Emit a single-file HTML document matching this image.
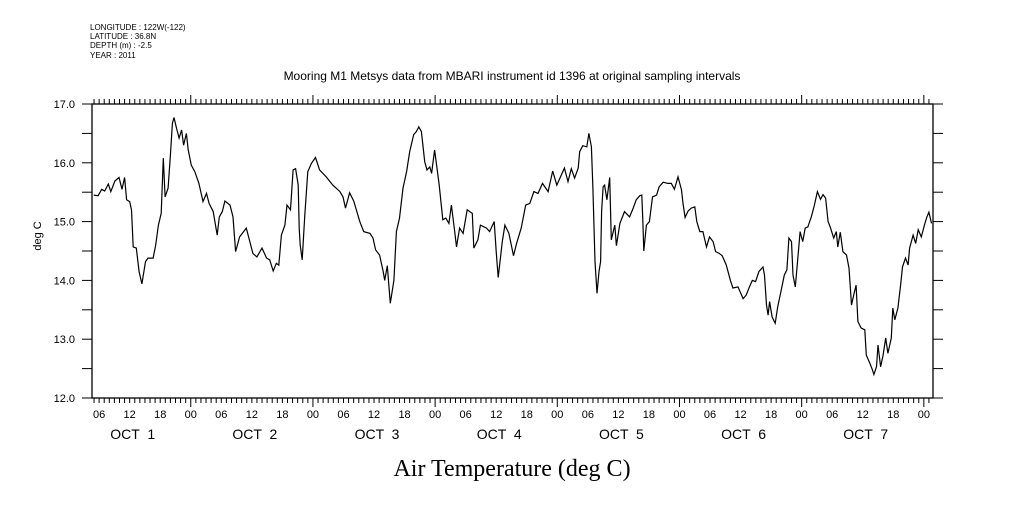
<!DOCTYPE html>
<html><head><meta charset="utf-8"><style>
body{margin:0;background:#fff;}
svg text{font-family:"Liberation Sans",sans-serif;fill:#000;}
</style></head><body>
<svg id="chart" width="1009" height="504" viewBox="0 0 1009 504" xmlns="http://www.w3.org/2000/svg">
<g font-size="8">
<text x="90" y="30">LONGITUDE : 122W(-122)</text>
<text x="90" y="39">LATITUDE : 36.8N</text>
<text x="90" y="48">DEPTH (m) : -2.5</text>
<text x="90" y="58">YEAR : 2011</text>
</g>
<text x="512" y="80" text-anchor="middle" font-size="12">Mooring M1 Metsys data from MBARI instrument id 1396 at original sampling intervals</text>
<text transform="translate(41,236) rotate(-90)" text-anchor="middle" font-size="11">deg C</text>
<text x="512" y="476" text-anchor="middle" font-size="24" style="font-family:'Liberation Serif',serif">Air Temperature (deg C)</text>
<g id="axes"></g>
<g id="marks"></g>
</svg>
<script>
const hours=[4.95,5.8,6.5,7.1,7.8,8.3,9.1,9.9,10.5,11.0,11.4,12.0,12.35,12.7,13.3,13.85,14.4,15.1,15.6,16.6,17.1,17.65,18.2,18.6,18.95,19.55,20.0,20.4,20.7,21.2,21.7,22.2,22.6,23.15,23.5,24.1,24.8,25.6,26.4,27.1,27.6,28.4,29.2,29.6,30.2,30.7,31.7,32.3,32.8,33.6,34.9,36.2,37.0,38.0,38.9,39.5,40.2,40.8,41.3,41.8,42.5,42.9,43.6,44.1,44.6,45.1,45.3,
45.5,45.9,46.4,47.0,47.7,48.5,49.3,50.6,51.9,53.3,53.9,54.4,55.2,56.0,57.2,57.98,59.2,59.8,60.3,61.1,61.8,62.1,62.6,63.2,63.9,64.4,65.0,65.7,66.4,67.0,67.8,68.3,68.8,69.3,69.95,70.4,70.95,71.3,71.9,72.8,73.5,74.1,74.7,75.2,75.85,76.2,76.8,77.5,78.3,79.3,79.6,80.4,80.9,82.1,82.7,83.6,84.0,84.4,85.2,85.7,86.5,
87.4,88.0,88.9,89.8,90.6,91.4,92.2,93.1,94.2,95.1,95.9,97.4,98.1,98.75,99.4,100.1,100.4,101.0,101.8,102.2,102.7,103.0,103.4,103.8,104.2,104.5,104.7,105.0,105.3,105.75,106.3,106.6,107.3,107.6,108.3,109.2,110.2,110.9,111.5,112.2,112.6,112.8,113.0,113.5,114.1,114.7,115.5,116.0,116.8,117.7,118.4,119.0,119.7,120.4,120.7,121.1,121.7,122.3,123.0,123.4,124.0,124.6,125.3,125.9,126.6,127.1,127.8,
128.4,129.2,130.0,130.5,131.5,132.5,133.1,133.65,134.3,134.95,135.6,136.4,136.7,137.1,137.4,137.7,138.2,138.8,139.3,140.0,140.6,141.1,141.5,142.0,142.3,142.75,143.3,143.7,144.2,144.7,145.2,145.9,146.5,147.1,147.7,148.2,148.7,149.2,149.6,150.3,150.8,151.1,151.6,152.1,152.8,153.3,153.8,154.3,154.7,155.05,155.7,156.4,156.7,157.4,157.9,158.2,158.7,159.0,159.5,160.0,160.5,160.95,161.6,161.9,162.3,162.9,163.4,163.8,164.4,164.9,165.2,165.9,166.4,166.9,167.5,168.2,168.6,169.0,169.5];
const temps=[15.45,15.44,15.55,15.52,15.64,15.51,15.69,15.75,15.55,15.75,15.37,15.34,15.2,14.57,14.55,14.15,13.94,14.32,14.38,14.38,14.59,14.94,15.14,16.08,15.42,15.57,16.13,16.67,16.77,16.59,16.42,16.56,16.30,16.5,16.22,15.96,15.85,15.65,15.34,15.48,15.31,15.17,14.77,15.08,15.17,15.35,15.28,15.08,14.49,14.74,14.89,14.46,14.40,14.55,14.38,14.35,14.16,14.29,14.26,14.77,14.94,15.28,15.2,15.88,15.9,15.62,14.89,
14.6,14.35,15.11,15.85,15.99,16.09,15.88,15.76,15.62,15.51,15.42,15.23,15.49,15.35,15.0,14.83,14.80,14.72,14.52,14.43,14.15,14.0,14.25,13.61,14.0,14.83,15.06,15.57,15.85,16.19,16.48,16.53,16.61,16.53,16.02,15.88,15.93,15.82,16.22,15.62,15.03,15.06,14.97,15.28,14.83,14.57,14.89,14.80,15.2,15.14,14.55,14.69,14.94,14.89,14.83,15.0,14.49,14.05,14.66,14.94,14.80,
14.42,14.63,14.89,15.28,15.31,15.51,15.48,15.65,15.51,15.86,15.62,15.91,15.68,15.9,15.74,15.91,16.19,16.29,16.27,16.5,16.27,15.57,14.32,13.78,14.15,14.32,15.17,15.59,15.62,15.37,15.75,14.69,14.94,14.59,14.97,15.17,15.08,15.23,15.37,15.44,15.45,15.03,14.50,14.94,15.0,15.42,15.45,15.59,15.67,15.65,15.65,15.55,15.76,15.54,15.31,15.07,15.18,15.23,15.25,15.0,14.83,14.83,14.57,14.74,14.66,14.49,14.46,
14.42,14.26,14.0,13.87,13.89,13.69,13.75,13.87,14.0,13.98,14.15,14.23,14.09,13.58,13.41,13.64,13.38,13.27,13.55,13.84,14.09,14.18,14.72,14.66,14.09,13.89,14.43,14.83,14.66,14.89,14.91,15.08,15.28,15.51,15.38,15.46,15.4,15.0,14.91,14.72,14.83,14.57,14.82,14.49,14.43,14.21,13.58,13.78,13.92,13.30,13.19,13.16,12.73,12.59,12.48,12.40,12.53,12.9,12.53,12.73,13.02,12.76,13.02,13.53,13.33,13.53,13.89,14.23,14.38,14.26,14.55,14.77,14.63,14.86,14.74,14.97,15.08,15.16,14.97];
const yTickLabels=["12.0","13.0","14.0","15.0","16.0","17.0"];
const hourTickLabels=["00","06","12","18"];
const dayLabels=["OCT  1","OCT  2","OCT  3","OCT  4","OCT  5","OCT  6","OCT  7"];

const X0=92,X1=933,Y0=104,Y1=398;
const HMIN=4.6,HMAX=169.8,TMIN=12,TMAX=17;
const xs=h=>X0+(h-HMIN)/(HMAX-HMIN)*(X1-X0);
const ys=t=>Y1-(t-TMIN)/(TMAX-TMIN)*(Y1-Y0);
const NS="http://www.w3.org/2000/svg";
const axes=document.getElementById('axes'),marks=document.getElementById('marks');
function mk(tag,attrs,parent){const e=document.createElementNS(NS,tag);for(const k in attrs)e.setAttribute(k,attrs[k]);parent.appendChild(e);return e;}

const frame=mk('rect',{x:X0,y:Y0,width:X1-X0,height:Y1-Y0,fill:'none',stroke:'#000','stroke-width':1.3},axes);



// y ticks every 0.5 both sides
for(let t=TMIN;t<=TMAX+1e-9;t+=0.5){
  const y=ys(t);
  const l=mk('line',{x1:X0-10,x2:X0,y1:y,y2:y,stroke:'#000'},axes);
  
  
  const r=mk('line',{x1:X1,x2:X1+10,y1:y,y2:y,stroke:'#000'},axes);
  
  
}
yTickLabels.forEach(s=>{
  const t=mk('text',{x:X0-17,y:ys(parseFloat(s))+4,'text-anchor':'end','font-size':11},axes);
  t.textContent=s;
  
  
});
// x ticks hourly
for(let h=Math.ceil(HMIN);h<=HMAX;h++){
  const x=xs(h);const major=h%24===0;const len=major?9:5;
  const a=mk('line',{x1:x,x2:x,y1:Y0-len,y2:Y0,stroke:'#000'},axes);
  
  
  const b=mk('line',{x1:x,x2:x,y1:Y1,y2:Y1+len,stroke:'#000'},axes);
  
  
  if(h%6===0){
    const t=mk('text',{x:x,y:418,'text-anchor':'middle','font-size':11},axes);
    t.textContent=hourTickLabels[(h%24)/6];
    
    
  }
}
dayLabels.forEach((s,i)=>{
  const t=mk('text',{x:xs(i*24+12)+3,y:439,'text-anchor':'middle','font-size':14},axes);
  t.setAttribute('xml:space','preserve');t.style.whiteSpace='pre';
  t.textContent=s;
  
  
});
let d='';hours.forEach((h,i)=>{d+=(i?'L':'M')+xs(h).toFixed(1)+' '+ys(temps[i]).toFixed(1);});
const line=mk('path',{d:d,fill:'none',stroke:'#000','stroke-width':1.2},marks);


</script>
</body></html>
